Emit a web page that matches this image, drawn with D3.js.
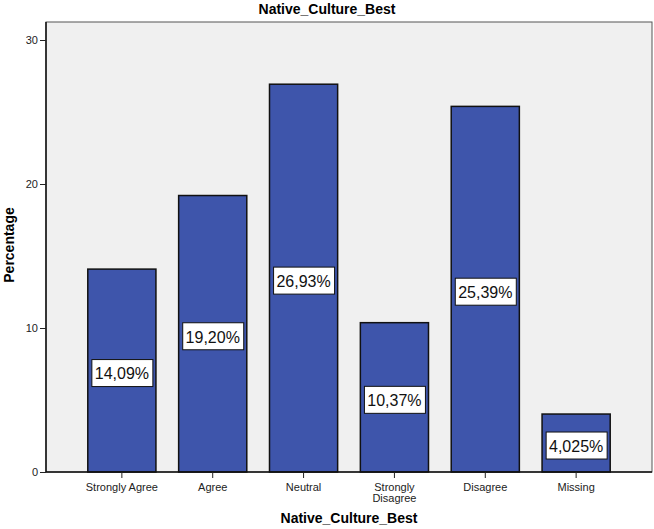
<!DOCTYPE html>
<html lang="en">
<head>
  <meta charset="UTF-8">
  <title>Native_Culture_Best</title>
  <style>
    body { margin: 0; background: #ffffff; }
    svg { display: block; font-family: "Liberation Sans", Arial, sans-serif; }
    .bar { fill: #3e55ab; stroke: #111111; stroke-width: 1.5; }
    .tick text { fill: #222222; }
  </style>
  <script type="text/javascript" src="https://d3js.org/d3.v7.min.js"></script>
</head>
<body>
</body>
<script type="text/javascript">

  var categories = ["Strongly Agree", "Agree", "Neutral", "Strongly Disagree", "Disagree", "Missing"];
  var percentages = [14.09, 19.20, 26.93, 10.37, 25.39, 4.025];
  var valueLabels = ["14,09%", "19,20%", "26,93%", "10,37%", "25,39%", "4,025%"];
  var yTicks = [0, 10, 20, 30];

  var width = 654, height = 529;
  var plotLeft = 46, plotRight = 652, plotTop = 22, plotBottom = 472;

  var svg = d3.select("body")
    .append("svg")
    .attr("width", width)
    .attr("height", height);

  var x = d3.scaleBand()
    .domain(categories)
    .range([plotLeft, plotRight])
    .paddingInner(0.25)
    .paddingOuter(0.46);

  var y = d3.scaleLinear()
    .domain([0, 30])
    .range([plotBottom, 40]);

  // plot background
  svg.append("rect")
    .attr("x", plotLeft)
    .attr("y", plotTop)
    .attr("width", plotRight - plotLeft)
    .attr("height", plotBottom - plotTop)
    .attr("fill", "#f0f0f0")
    .attr("stroke", "#555555")
    .attr("stroke-width", 1);

  var data = categories.map(function(c, i) {
    return {cat: c, value: percentages[i], label: valueLabels[i]};
  });

  svg.selectAll("rect.bar")
    .data(data)
    .enter()
    .append("rect")
    .attr("class", "bar")
    .attr("x", function(d) { return x(d.cat); })
    .attr("y", function(d) { return y(d.value); })
    .attr("width", x.bandwidth())
    .attr("height", function(d) { return y(0) - y(d.value); });

  // value labels
  var labels = svg.selectAll("g.vlabel")
    .data(data)
    .enter()
    .append("g")
    .attr("class", "vlabel")
    .attr("transform", function(d) {
      return "translate(" + (x(d.cat) + x.bandwidth() / 2) + "," + ((y(d.value) + y(0)) / 2 + 3) + ")";
    });

  labels.append("rect")
    .attr("x", -30)
    .attr("y", -14)
    .attr("width", 61)
    .attr("height", 27)
    .attr("fill", "#ffffff")
    .attr("stroke", "#111111")
    .attr("stroke-width", 1);

  labels.append("text")
    .attr("text-anchor", "middle")
    .attr("dy", "0.36em")
    .attr("font-size", 16)
    .attr("fill", "#111111")
    .text(function(d) { return d.label; });

  // axes
  var yAxis = d3.axisLeft(y)
    .tickValues(yTicks)
    .tickSize(6)
    .tickPadding(2);

  svg.append("g")
    .attr("transform", "translate(" + plotLeft + ",0)")
    .call(yAxis)
    .call(function(g) {
      g.select(".domain").attr("stroke", "#111111").attr("stroke-width", 1.5)
        .attr("d", "M0," + plotTop + "V" + plotBottom);
      g.selectAll(".tick line").attr("stroke", "#222222");
      g.selectAll(".tick text").attr("font-size", 11).attr("fill", "#444444");
    });

  var xAxis = d3.axisBottom(x)
    .tickSize(6)
    .tickPadding(5);

  svg.append("g")
    .attr("transform", "translate(0," + plotBottom + ")")
    .call(xAxis)
    .call(function(g) {
      g.select(".domain").attr("stroke", "#111111").attr("stroke-width", 1.5)
        .attr("d", "M" + plotLeft + ",0H" + plotRight);
      g.selectAll(".tick line").attr("stroke", "#222222");
      g.selectAll(".tick text")
        .attr("font-size", 11)
        .each(function(d) {
          var t = d3.select(this);
          if (d === "Strongly Disagree") {
            t.text(null);
            t.append("tspan").attr("x", 0).attr("dy", "0.71em").text("Strongly");
            t.append("tspan").attr("x", 0).attr("dy", "1.0em").text("Disagree");
            t.attr("dy", null);
          }
        });
    });

  // titles
  svg.append("text")
    .attr("x", 327)
    .attr("y", 14)
    .attr("text-anchor", "middle")
    .attr("font-size", 14)
    .attr("font-weight", "bold")
    .text("Native_Culture_Best");

  svg.append("text")
    .attr("x", 349)
    .attr("y", 523)
    .attr("text-anchor", "middle")
    .attr("font-size", 14)
    .attr("font-weight", "bold")
    .text("Native_Culture_Best");

  svg.append("text")
    .attr("transform", "translate(14,245) rotate(-90)")
    .attr("text-anchor", "middle")
    .attr("font-size", 14)
    .attr("font-weight", "bold")
    .text("Percentage");

</script>
</html>
